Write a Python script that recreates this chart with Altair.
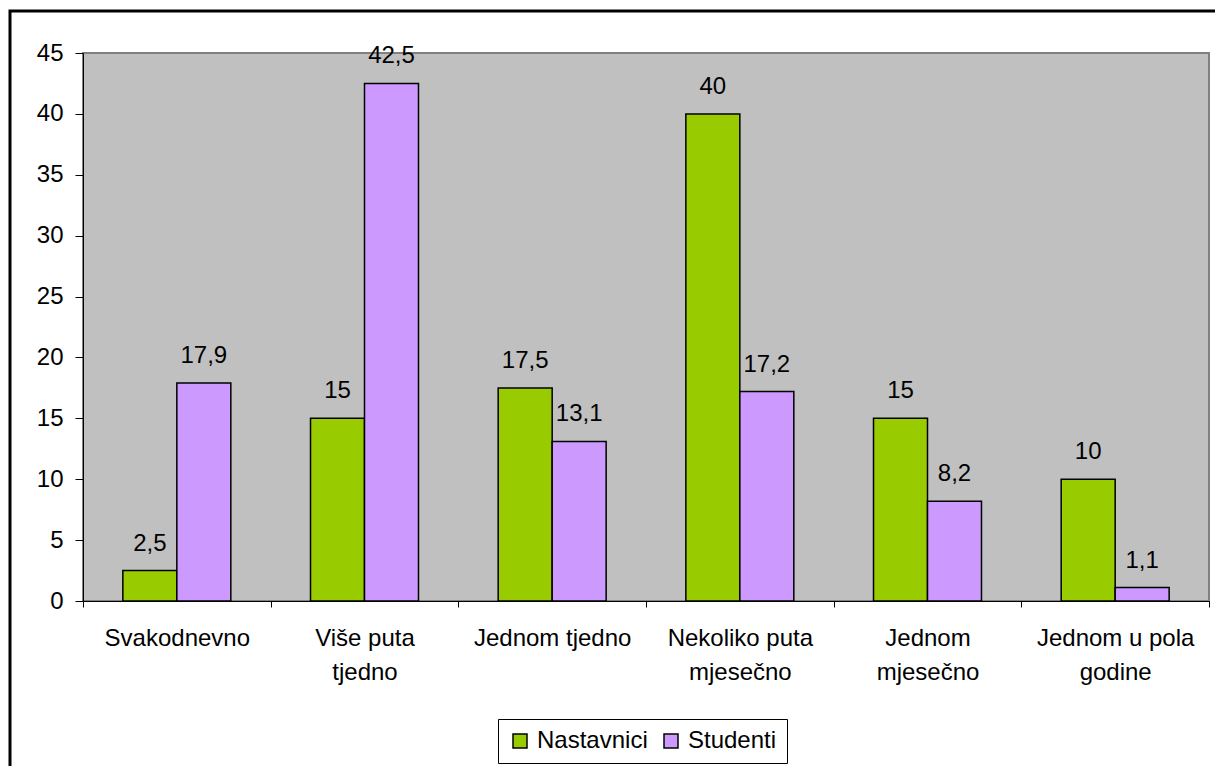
import altair as alt
import pandas as pd

# Survey: how often the resource is used, teachers vs. students (%)
categories = [
    "Svakodnevno",
    "Više puta\ntjedno",
    "Jednom tjedno",
    "Nekoliko puta\nmjesečno",
    "Jednom\nmjesečno",
    "Jednom u pola\ngodine",
]
series = ["Nastavnici", "Studenti"]
nastavnici = [2.5, 15, 17.5, 40, 15, 10]
studenti = [17.9, 42.5, 13.1, 17.2, 8.2, 1.1]
colors = ["#99CC00", "#CC99FF"]

rows = []
for cat, a, b in zip(categories, nastavnici, studenti):
    rows.append({"kategorija": cat, "skupina": series[0], "vrijednost": a})
    rows.append({"kategorija": cat, "skupina": series[1], "vrijednost": b})
df = pd.DataFrame(rows)

FONT = "Liberation Sans"

x_enc = alt.X(
    "kategorija:N",
    sort=categories,
    scale=alt.Scale(paddingInner=0, paddingOuter=0),
    axis=alt.Axis(
        title=None,
        labelAngle=0,
        labelExpr="split(datum.label, '\\n')",
        labelFontSize=24,
        labelLineHeight=34,
        labelPadding=19,
        labelLimit=400,
        labelColor="black",
        tickBand="extent",
        tickSize=6,
        tickColor="black",
        domainColor="black",
        grid=False,
        zindex=1,
    ),
)
xoff_enc = alt.XOffset(
    "skupina:N",
    sort=series,
    scale=alt.Scale(paddingInner=0, paddingOuter=0.738),
)
y_enc = alt.Y(
    "vrijednost:Q",
    scale=alt.Scale(domain=[0, 45], nice=False),
    axis=alt.Axis(
        title=None,
        values=list(range(0, 50, 5)),
        labelFontSize=24,
        labelPadding=12,
        labelColor="black",
        tickSize=8,
        tickColor="black",
        domainColor="black",
        grid=False,
        zindex=1,
    ),
)

base = alt.Chart(df)

bars = base.mark_bar(stroke="black", strokeWidth=1.5).encode(
    x=x_enc,
    xOffset=xoff_enc,
    y=y_enc,
    color=alt.Color(
        "skupina:N",
        scale=alt.Scale(domain=series, range=colors),
        legend=alt.Legend(
            title=None,
            orient="none",
            direction="horizontal",
            legendX=415,
            legendY=666,
            symbolType="square",
            symbolSize=196,
            symbolStrokeColor="black",
            symbolStrokeWidth=1.5,
            symbolOpacity=1,
            labelFontSize=24,
            labelColor="black",
            labelOffset=5,
            columnPadding=11,
            padding=10,
            strokeColor="black",
            fillColor="white",
        ),
    ),
)

labels = base.transform_calculate(
    oznaka="replace(toString(datum.vrijednost), '.', ',')"
).mark_text(
    fontSize=24, color="black", baseline="alphabetic", align="center", dy=-20
).encode(
    x=x_enc,
    xOffset=xoff_enc,
    y=y_enc,
    text="oznaka:N",
)

# outer frame around the whole figure
frame = alt.Chart(alt.Data(values=[{"f": 1}])).mark_rect(
    filled=False, stroke="black", strokeWidth=3
).encode(
    x=alt.value(-73),
    x2=alt.value(1300),
    y=alt.value(-42),
    y2=alt.value(900),
)

chart = (
    alt.layer(bars, labels, frame)
    .properties(
        width=1126,
        height=548,
        autosize=alt.AutoSizeParams(type="none"),
        padding={"left": 83, "top": 53, "right": 6, "bottom": 165},
        background="white",
    )
    .configure(font=FONT)
    .configure_view(fill="#C0C0C0", stroke="#808080", strokeWidth=2)
)

chart.save("out.html", embed_options={"renderer": "svg", "actions": False})
